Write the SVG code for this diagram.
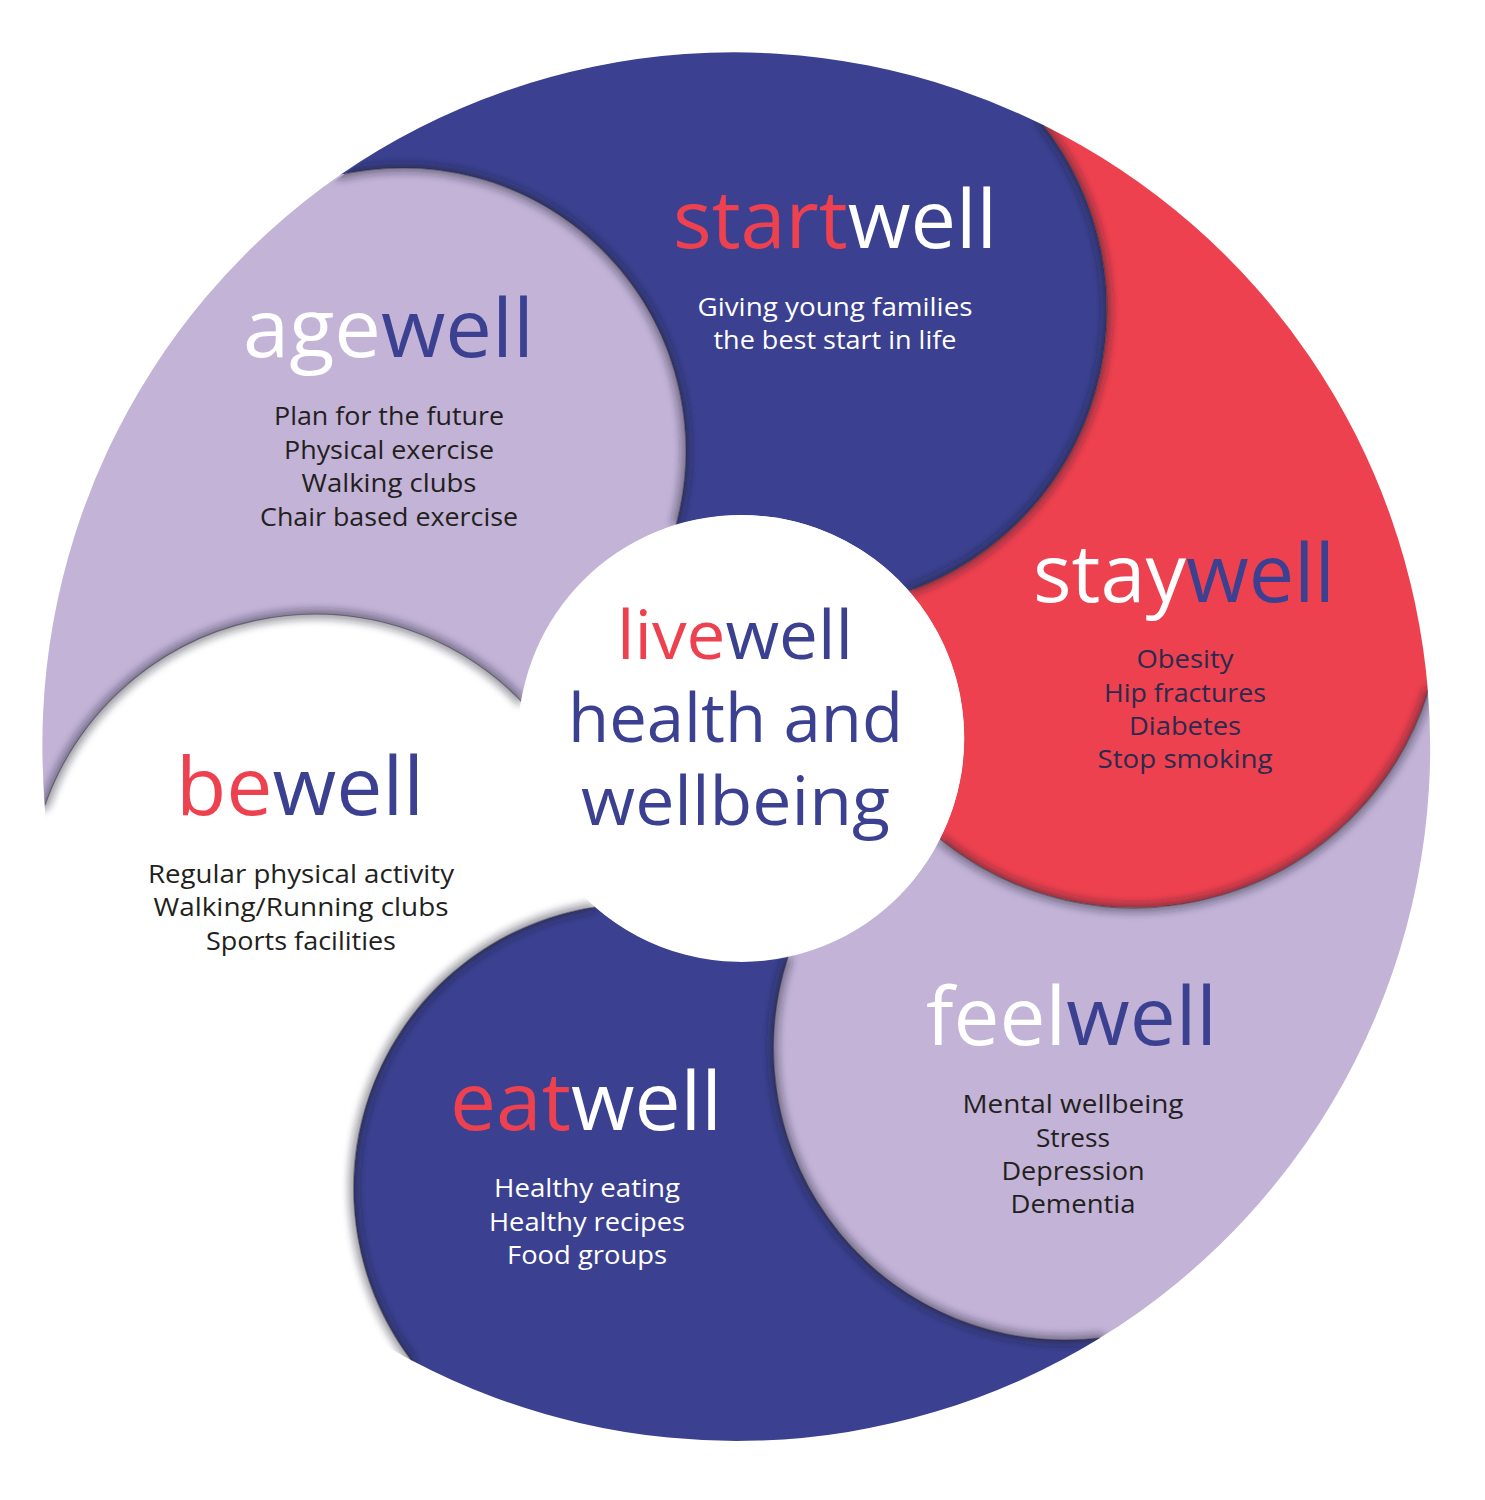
<svg xmlns="http://www.w3.org/2000/svg" width="1485" height="1500" viewBox="0 0 1485 1500">
<style>
.head{font-family:"Open Sans","Noto Sans","Liberation Sans",sans-serif;font-size:80px;}
.mid{font-family:"Open Sans","Noto Sans","Liberation Sans",sans-serif;font-size:68px;fill:#3B4190;}
.sub{font-family:"Open Sans","Noto Sans","Liberation Sans",sans-serif;font-size:26px;text-anchor:middle;}
.r{fill:#EE414F}.b{fill:#3B4190}.w{fill:#FFFFFF}
.dk{fill:#231F20}.sy{fill:#2A2A4E}
.sh{fill:none;stroke:#1c1c2e;stroke-width:7;stroke-opacity:0.6;}
.ln{fill:none;stroke:#2a2a3a;stroke-width:1.2;stroke-opacity:0.45;}
</style>
<defs>
<clipPath id="ring"><path clip-rule="evenodd" d="M42,747 A694,694 0 1 1 1430,747 A694,694 0 1 1 42,747 Z M518,738 A223,223 0 1 0 964,738 A223,223 0 1 0 518,738 Z"/></clipPath>
<filter id="soft" x="-20%" y="-20%" width="140%" height="140%"><feGaussianBlur stdDeviation="4.5"/></filter>
</defs>
<rect width="1485" height="1500" fill="#FFFFFF"/>
<g id="startwell">
<path fill="#3B4190" d="M340,175 A694,694 0 0 1 1043,125 A299,299 0 0 1 909,591 A223,223 0 0 0 676,525 A283,283 0 0 0 340,175 Z"/>
</g>
<g id="staywell">
<path fill="#EE414F" d="M1043,125 A694,694 0 0 1 1428,692 A308,308 0 0 1 940,839 A223,223 0 0 0 909,591 A299,299 0 0 0 1043,125 Z"/>
</g>
<g id="feelwell">
<path fill="#C2B3D7" d="M1428,692 A694,694 0 0 1 1100,1338 A292,292 0 0 1 788,957 A223,223 0 0 0 940,839 A308,308 0 0 0 1428,692 Z"/>
</g>
<g id="eatwell">
<path fill="#3B4190" d="M1100,1338 A694,694 0 0 1 411,1360 A285,285 0 0 1 595,907 A223,223 0 0 0 788,957 A292,292 0 0 0 1100,1338 Z"/>
</g>
<g id="bewell">
<path fill="#FFFFFF" d="M411,1360 A694,694 0 0 1 45,805 A287,287 0 0 1 522,702 A223,223 0 0 0 595,907 A285,285 0 0 0 411,1360 Z"/>
</g>
<g id="agewell">
<path fill="#C2B3D7" d="M45,805 A694,694 0 0 1 340,175 A283,283 0 0 1 676,525 A223,223 0 0 0 522,702 A287,287 0 0 0 45,805 Z"/>
</g>
<g id="connectors" clip-path="url(#ring)">
<path class="sh" filter="url(#soft)" d="M330,165 L340,175 A283,283 0 0 1 676,525"/>
<path class="sh" filter="url(#soft)" d="M1040,112 L1043,125 A299,299 0 0 1 909,591"/>
<path class="sh" filter="url(#soft)" d="M1442,690 L1428,692 A308,308 0 0 1 940,839"/>
<path class="sh" filter="url(#soft)" d="M1108,1352 L1100,1338 A292,292 0 0 1 788,957"/>
<path class="sh" filter="url(#soft)" d="M405,1374 L411,1360 A285,285 0 0 1 595,907"/>
<path class="sh" filter="url(#soft)" d="M30,810 L45,805 A287,287 0 0 1 522,702"/>
<path class="ln" d="M340,175 A283,283 0 0 1 676,525"/>
<path class="ln" d="M1043,125 A299,299 0 0 1 909,591"/>
<path class="ln" d="M1428,692 A308,308 0 0 1 940,839"/>
<path class="ln" d="M1100,1338 A292,292 0 0 1 788,957"/>
<path class="ln" d="M411,1360 A285,285 0 0 1 595,907"/>
<path class="ln" d="M45,805 A287,287 0 0 1 522,702"/>
</g>
<g id="livewell">
<circle cx="741" cy="738" r="223" fill="#FFFFFF"/>
<text class="mid" x="617" y="659" textLength="236" lengthAdjust="spacingAndGlyphs"><tspan class="r">live</tspan><tspan class="b">well</tspan></text>
<text class="mid" x="568" y="742" textLength="335" lengthAdjust="spacingAndGlyphs">health and</text>
<text class="mid" x="581" y="825" textLength="309" lengthAdjust="spacingAndGlyphs">wellbeing</text>
</g>
<g id="startwell-text">
<text class="head" x="673" y="248" textLength="324" lengthAdjust="spacingAndGlyphs"><tspan class="r">start</tspan><tspan class="w">well</tspan></text>
<text class="sub w" x="835" y="316" textLength="275" lengthAdjust="spacingAndGlyphs">Giving young families</text>
<text class="sub w" x="835" y="349" textLength="243" lengthAdjust="spacingAndGlyphs">the best start in life</text>
</g>
<g id="agewell-text">
<text class="head" x="243" y="357" textLength="291" lengthAdjust="spacingAndGlyphs"><tspan class="w">age</tspan><tspan class="b">well</tspan></text>
<text class="sub dk" x="389" y="425" textLength="230" lengthAdjust="spacingAndGlyphs">Plan for the future</text>
<text class="sub dk" x="389" y="459" textLength="210" lengthAdjust="spacingAndGlyphs">Physical exercise</text>
<text class="sub dk" x="389" y="492" textLength="175" lengthAdjust="spacingAndGlyphs">Walking clubs</text>
<text class="sub dk" x="389" y="526" textLength="258" lengthAdjust="spacingAndGlyphs">Chair based exercise</text>
</g>
<g id="staywell-text">
<text class="head" x="1033" y="602" textLength="302" lengthAdjust="spacingAndGlyphs"><tspan class="w">stay</tspan><tspan class="b">well</tspan></text>
<text class="sub sy" x="1185" y="668" textLength="97" lengthAdjust="spacingAndGlyphs">Obesity</text>
<text class="sub sy" x="1185" y="702" textLength="162" lengthAdjust="spacingAndGlyphs">Hip fractures</text>
<text class="sub sy" x="1185" y="735" textLength="112" lengthAdjust="spacingAndGlyphs">Diabetes</text>
<text class="sub sy" x="1185" y="768" textLength="175" lengthAdjust="spacingAndGlyphs">Stop smoking</text>
</g>
<g id="bewell-text">
<text class="head" x="176" y="815" textLength="248" lengthAdjust="spacingAndGlyphs"><tspan class="r">be</tspan><tspan class="b">well</tspan></text>
<text class="sub dk" x="301" y="883" textLength="306" lengthAdjust="spacingAndGlyphs">Regular physical activity</text>
<text class="sub dk" x="301" y="916" textLength="295" lengthAdjust="spacingAndGlyphs">Walking/Running clubs</text>
<text class="sub dk" x="301" y="950" textLength="190" lengthAdjust="spacingAndGlyphs">Sports facilities</text>
</g>
<g id="feelwell-text">
<text class="head" x="926" y="1045" textLength="291" lengthAdjust="spacingAndGlyphs"><tspan class="w">feel</tspan><tspan class="b">well</tspan></text>
<text class="sub dk" x="1073" y="1113" textLength="221" lengthAdjust="spacingAndGlyphs">Mental wellbeing</text>
<text class="sub dk" x="1073" y="1147" textLength="74" lengthAdjust="spacingAndGlyphs">Stress</text>
<text class="sub dk" x="1073" y="1180" textLength="143" lengthAdjust="spacingAndGlyphs">Depression</text>
<text class="sub dk" x="1073" y="1213" textLength="125" lengthAdjust="spacingAndGlyphs">Dementia</text>
</g>
<g id="eatwell-text">
<text class="head" x="450" y="1130" textLength="272" lengthAdjust="spacingAndGlyphs"><tspan class="r">eat</tspan><tspan class="w">well</tspan></text>
<text class="sub w" x="587" y="1197" textLength="186" lengthAdjust="spacingAndGlyphs">Healthy eating</text>
<text class="sub w" x="587" y="1231" textLength="196" lengthAdjust="spacingAndGlyphs">Healthy recipes</text>
<text class="sub w" x="587" y="1264" textLength="160" lengthAdjust="spacingAndGlyphs">Food groups</text>
</g>
</svg>
